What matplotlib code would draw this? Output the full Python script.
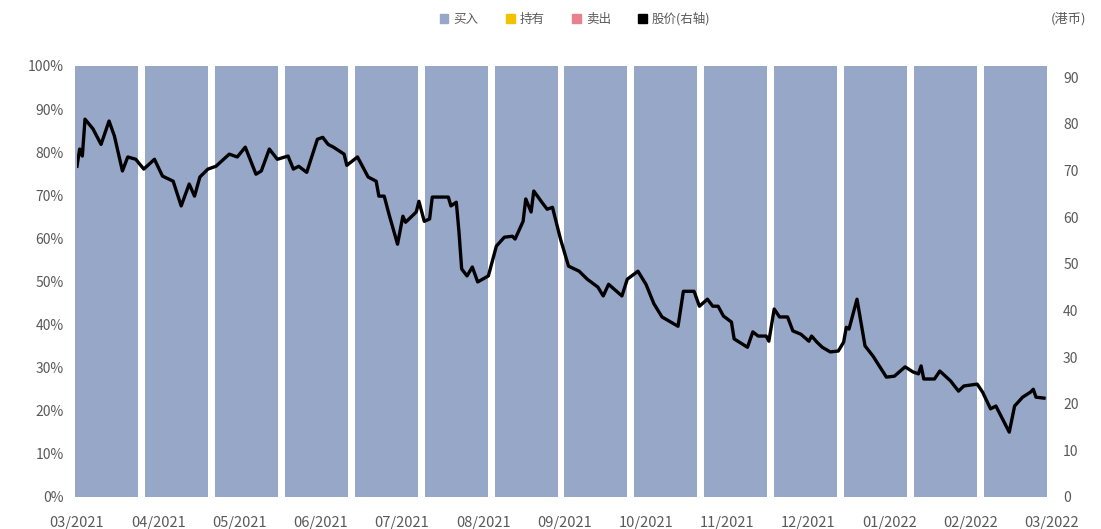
import numpy as np
import pandas as pd
import matplotlib
matplotlib.use('Agg')
import matplotlib.pyplot as plt
from matplotlib.patches import Patch

plt.rcParams['font.family'] = ['Noto Sans CJK SC', 'DejaVu Sans']

# rating share per period (14 bars)
n_bars = 14
buy = [100] * n_bars
hold = [0] * n_bars
sell = [0] * n_bars

# share price, days counted from 2021-03-01
day = [0, 1, 2, 3, 6, 9, 12, 14, 17, 19, 22, 25, 29, 32, 36, 39, 42, 44, 46, 49,
       52, 57, 60, 63, 67, 69, 72, 75, 79, 81, 83, 86, 90, 92, 94, 96, 100, 101, 105, 109,
       112, 113, 115, 117, 120, 122, 123, 127, 128, 130, 132, 133, 139, 140, 142, 143, 144, 146, 148, 150,
       154, 157, 160, 163, 164, 167, 168, 170, 171, 174, 176, 178, 181, 184, 188, 191, 195, 197, 199, 204,
       206, 210, 213, 216, 219, 225, 227, 231, 233, 236, 238, 240, 242, 245, 246, 251, 253, 255, 258, 259,
       261, 263, 266, 268, 271, 274, 275, 277, 279, 282, 285, 287, 288, 289, 292, 295, 298, 303, 306, 310,
       313, 315, 316, 317, 321, 323, 327, 330, 332, 337, 339, 342, 344, 349, 351, 354, 357, 358, 359, 362]
price = [70.9, 74.6, 73.1, 81.0, 78.9, 75.6, 80.6, 77.4, 69.9, 72.9, 72.4, 70.3, 72.4, 68.8, 67.7, 62.4, 67.1, 64.5, 68.6, 70.3,
         70.9, 73.5, 72.9, 75.0, 69.2, 69.9, 74.6, 72.4, 73.1, 70.3, 70.9, 69.6, 76.7, 77.1, 75.6, 75.0, 73.5, 71.1, 72.9, 68.6,
         67.7, 64.5, 64.5, 60.2, 54.2, 60.2, 58.9, 61.1, 63.4, 59.1, 59.6, 64.3, 64.3, 62.4, 63.2, 56.8, 48.9, 47.4, 49.3, 46.1,
         47.4, 53.8, 55.7, 55.9, 55.3, 59.1, 63.9, 61.1, 65.6, 63.2, 61.7, 62.1, 55.3, 49.5, 48.4, 46.7, 45.0, 43.1, 45.6, 43.1,
         46.7, 48.4, 45.6, 41.4, 38.6, 36.6, 44.1, 44.1, 40.9, 42.4, 40.9, 40.9, 38.8, 37.5, 33.9, 32.1, 35.4, 34.5, 34.5, 33.4,
         40.3, 38.6, 38.6, 35.6, 34.9, 33.4, 34.5, 33.2, 32.1, 31.1, 31.3, 33.2, 36.4, 36.0, 42.4, 32.4, 30.2, 25.7, 25.9, 27.9,
         26.8, 26.4, 28.1, 25.3, 25.3, 27.0, 24.9, 22.7, 23.8, 24.2, 22.5, 18.9, 19.5, 13.9, 19.5, 21.4, 22.5, 23.1, 21.4, 21.2]

month_labels = ['03/2021', '04/2021', '05/2021', '06/2021', '07/2021', '08/2021', '09/2021',
                '10/2021', '11/2021', '12/2021', '01/2022', '02/2022', '03/2022']

c_buy = '#97A7C8'
c_hold = '#F2C200'
c_sell = '#E8808E'
grey = '#595959'

W, H = 1101, 529
fig = plt.figure(figsize=(W / 100, H / 100), dpi=100)

# bars (left axis)
ax = fig.add_axes([72 / W, 1 - 497 / H, 978 / W, 431 / H])
x = np.arange(n_bars)
ax.bar(x, buy, width=0.9, color=c_buy)
ax.bar(x, hold, width=0.9, bottom=buy, color=c_hold)
ax.bar(x, sell, width=0.9, bottom=np.array(buy) + np.array(hold), color=c_sell)
ax.set_xlim(-0.5, n_bars - 0.5)
ax.set_ylim(0, 100)
ax.set_yticks(np.arange(0, 101, 10))
ax.set_yticklabels(['%d%%' % v for v in range(0, 101, 10)])
ax.set_xticks([])
ax.tick_params(axis='y', length=0, pad=6, labelsize=10, labelcolor=grey)
for s in ax.spines.values():
    s.set_visible(False)

# price line (right axis)
ax2 = fig.add_axes([77 / W, 1 - 497 / H, 975 / W, 431 / H])
ax2.patch.set_alpha(0)
ax2.plot(day, price, color='black', linewidth=2.4)
ax2.set_xlim(0, 365)
ax2.set_ylim(0, 92.4)
ax2.set_xticks(np.linspace(0, 365, 13))
ax2.set_xticklabels(month_labels)
ax2.set_yticks(np.arange(0, 91, 10))
ax2.yaxis.tick_right()
ax2.tick_params(axis='y', length=0, pad=8, labelsize=10, labelcolor=grey)
ax2.tick_params(axis='x', length=0, pad=14, labelsize=10.5, labelcolor=grey)
for s in ax2.spines.values():
    s.set_visible(False)

handles = [Patch(color=c_buy, label='买入'), Patch(color=c_hold, label='持有'),
           Patch(color=c_sell, label='卖出'), Patch(color='black', label='股价(右轴)')]
fig.legend(handles=handles, loc='center', bbox_to_anchor=(575 / W, 1 - 19 / H), ncol=4,
           frameon=False, fontsize=9, labelcolor=grey, handlelength=0.7, handleheight=0.7,
           handletextpad=0.4, columnspacing=2.2)
fig.text(1068 / W, 1 - 19 / H, '(港币)', ha='center', va='center', fontsize=9.5, color=grey)

fig.savefig('out.png', dpi=100)
